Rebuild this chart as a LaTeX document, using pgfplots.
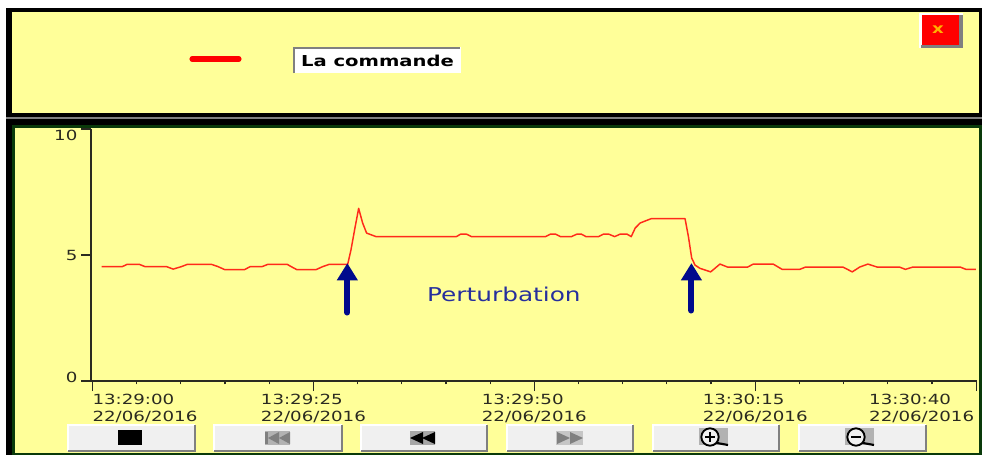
\documentclass[border=0pt]{standalone}
\usepackage{fontspec}
\setmainfont[FakeStretch=1.3]{DejaVu Sans}
\usepackage{pgfplots}
\pgfplotsset{compat=1.18}
\usetikzlibrary{arrows.meta}
\definecolor{panel}{HTML}{FFFF99}
\definecolor{frame}{HTML}{0A3A0A}
\definecolor{navy}{HTML}{000A8C}
\definecolor{cmd}{HTML}{FF2A1A}
\definecolor{axisdark}{HTML}{2A2A20}
\definecolor{btn}{HTML}{F0F0F0}
\newcommand{\tl}[2]{\begin{tabular}{@{}l@{}}#1\\#2\end{tabular}}
\newcommand{\button}[2]{%
  \fill[btn] (#1,425) rectangle (#2,451);
  \draw[white,line width=0.9pt] (#1,451) -- (#1,425) -- (#2,425);
  \draw[gray,line width=1.4pt] (#1,451) -- (#2,451) -- (#2,425);
}
\begin{document}
\begin{tikzpicture}[x=0.75pt,y=-0.75pt]
\useasboundingbox (0,0) rectangle (982,457);
\fill[white] (0,0) rectangle (982,457);
% top panel
\fill[black] (6,8) rectangle (982,117);
\fill[panel] (12,12) rectangle (979,113);
\fill[gray] (6,117) rectangle (982,119);
% lower panel
\fill[black] (6,119) rectangle (982,455);
\fill[frame] (12,125) rectangle (982,455);
\fill[panel] (15,128) rectangle (979,453);
% legend
\draw[red,line width=3.8pt,line cap=round] (192,59) -- (239,59);
\fill[white] (293,47) rectangle (461,73);
\draw[gray,line width=1.2pt] (294,73) -- (294,48) -- (460,48);
\node[font=\fontsize{11.3pt}{12pt}\selectfont\bfseries,text=black,inner sep=0pt] at (377.5,60.5) {La commande};
% close button
\fill[white] (919,13) rectangle (963,48);
\fill[gray] (921,45) rectangle (963,48);
\fill[gray] (959,15) rectangle (963,48);
\fill[red] (922,15) rectangle (959,45);
\node[font=\fontsize{10.5pt}{12pt}\selectfont\bfseries,text=orange!60!yellow,inner sep=0pt] at (938,30) {x};
\coordinate (corner) at (91,381);
\begin{axis}[
  at={(corner)}, anchor=south west, scale only axis,
  width=664.5pt, height=189pt,
  xmin=-0.17, xmax=100.1, ymin=0, ymax=10,
  axis lines*=left, axis line style={-,axisdark,line width=1.1pt},
  xtick={0,25,50,75,100}, minor x tick num=4,
  ytick={0,5,10},
  major tick length=7.5pt, minor tick length=2.5pt,
  every tick/.style={axisdark,line width=0.9pt},
  xtick align=outside, ytick align=outside,
  xticklabels={\rlap{\tl{13:29:00}{22/06/2016}},\tl{13:29:25}{22/06/2016},\tl{13:29:50}{22/06/2016},\tl{13:30:15}{22/06/2016},\llap{\tl{13:30:40}{22/06/2016}\hspace{1.5pt}}},
  yticklabels={\raisebox{-0.8pt}[0pt][0pt]{0},\raisebox{-3.8pt}[0pt][0pt]{5},\raisebox{-8.3pt}[0pt][0pt]{10}},
  tick label style={font=\fontsize{10.5pt}{12.75pt}\selectfont,text=axisdark},
  xticklabel style={inner sep=0pt,yshift=-1pt},
  yticklabel style={inner sep=0pt,xshift=-2.5pt},
  clip=false,
]
\addplot[cmd,line width=1.1pt,line join=round] coordinates {
(1.04,4.54)(3.37,4.54)(3.93,4.63)(5.29,4.63)(5.93,4.54)(8.37,4.54)(9.13,4.44)(10.07,4.54)
(10.74,4.63)(13.45,4.63)(14.2,4.54)(14.96,4.42)(17.21,4.42)(17.85,4.54)(19.2,4.54)(19.85,4.63)
(22.03,4.63)(22.48,4.54)(23.12,4.42)(25.3,4.42)(26.06,4.54)(26.8,4.63)(28.88,4.63)
(29.25,5.2)(29.7,6.07)(30.12,6.85)(30.57,6.27)(31.02,5.87)(32.08,5.73)
(41.18,5.73)(41.67,5.83)(42.3,5.83)(42.9,5.73)(51.26,5.73)(51.83,5.83)(52.39,5.83)(52.95,5.73)
(54.2,5.73)(54.83,5.83)(55.32,5.83)(55.85,5.73)(57.28,5.73)(57.84,5.83)(58.41,5.83)(59.09,5.73)
(59.73,5.83)(60.48,5.83)(60.97,5.73)(61.42,6.07)(61.98,6.27)(62.55,6.35)(63.22,6.44)
(67.06,6.44)(67.44,5.73)(67.81,4.88)(68.19,4.6)(68.75,4.47)(69.96,4.33)(71.01,4.64)(71.88,4.52)
(74.14,4.52)(74.78,4.64)(77.03,4.64)(78.05,4.43)(80.04,4.43)(80.68,4.52)(84.93,4.52)(85.99,4.33)
(86.81,4.52)(87.75,4.64)(88.81,4.52)(91.33,4.52)(92.0,4.43)(92.83,4.52)(98.21,4.52)(98.85,4.43)(99.98,4.43)
};
\draw[navy,line width=4.6pt,line cap=round,-{Triangle[length=13pt,width=15pt]}] (axis cs:28.84,2.72) -- (axis cs:28.84,4.68);
\draw[navy,line width=4.6pt,line cap=round,-{Triangle[length=13pt,width=15pt]}] (axis cs:67.78,2.8) -- (axis cs:67.78,4.68);
\node[font=\fontsize{14.3pt}{16pt}\selectfont,text=navy!85!white,inner sep=0pt] at (axis cs:46.56,3.43) {Perturbation};
\end{axis}
% buttons
\button{68}{195}\button{214}{342}\button{361}{487}\button{507}{633}\button{653}{779}\button{799}{926}
\fill[black] (118,430) rectangle (142,445);
% first
\fill[gray!60] (265,431) rectangle (290,445);
\fill[gray] (265,432) rectangle (268,444);
\fill[gray] (268,438) -- (279,432) -- (279,444) -- cycle;
\fill[gray] (279,438) -- (290,432) -- (290,444) -- cycle;
% back
\fill[gray!70] (410,431) rectangle (435,445);
\fill[black] (410,438) -- (423,432) -- (423,444) -- cycle;
\fill[black] (422,438) -- (435,432) -- (435,444) -- cycle;
% forward
\fill[gray!45] (556,431) rectangle (583,445);
\fill[gray] (583,438) -- (570,432) -- (570,444) -- cycle;
\fill[gray] (570,438) -- (557,432) -- (557,444) -- cycle;
% zoom buttons
\fill[gray!60] (699,428) rectangle (728,445);
\fill[btn,draw=black,line width=1.4pt] (710,437) circle[radius=6.5pt];
\draw[black,line width=1.6pt] (717,443) -- (728,445);
\draw[black,line width=1.2pt] (705,437) -- (715,437) (710,432) -- (710,442);
\fill[gray!60] (845,428) rectangle (874,445);
\fill[btn,draw=black,line width=1.4pt] (856,437) circle[radius=6.5pt];
\draw[black,line width=1.6pt] (863,443) -- (874,445);
\draw[black,line width=1.2pt] (851,437) -- (861,437);
\end{tikzpicture}
\end{document}
